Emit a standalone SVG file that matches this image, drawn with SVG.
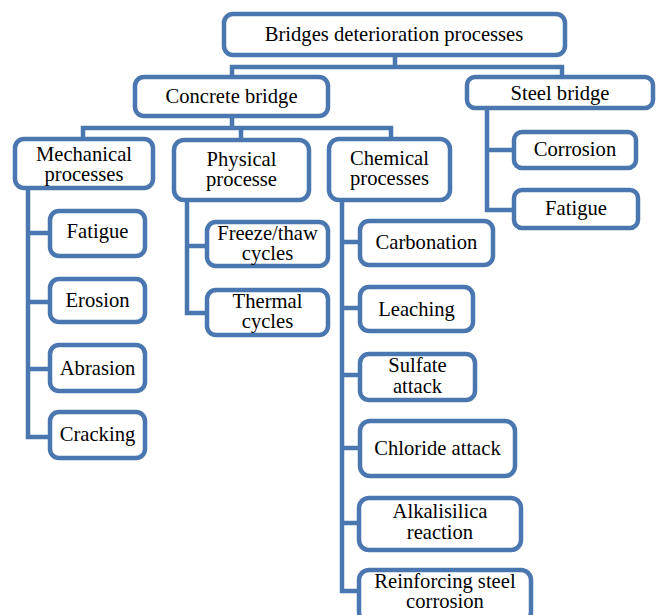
<svg xmlns="http://www.w3.org/2000/svg" width="661" height="615" viewBox="0 0 661 615">
<style>
.box{fill:#ffffff;stroke:#4a77af;stroke-width:4.5}
.ln{fill:none;stroke:#4a77af;stroke-width:4.5;stroke-linejoin:miter;stroke-linecap:square}
text{font-family:"Liberation Serif","Times New Roman",serif;font-size:20.6px;fill:#000;text-anchor:middle}
</style>
<rect width="661" height="615" fill="#ffffff"/>
<g id="connectors">
<path class="ln" d="M395,55V67M232,77V67H562V77"/>
<path class="ln" d="M232,116V128M83,139V128H391V139M241,128V140"/>
<path class="ln" d="M28,188V437H50M28,233H50M28,302H50M28,369H50"/>
<path class="ln" d="M187,200V313H207M187,246H207"/>
<path class="ln" d="M342,200V591H359M342,242H360M342,308H360M342,375H360M342,448H360M342,523H359"/>
<path class="ln" d="M487,108V210H514M487,150H514"/>
</g>
<g id="root"><rect class="box" x="224" y="14" width="341" height="41" rx="9"/><text x="394" y="41">Bridges deterioration processes</text></g>
<g id="concrete"><rect class="box" x="135" y="77" width="193" height="39" rx="9"/><text x="231.5" y="103">Concrete bridge</text></g>
<g id="steel"><rect class="box" x="467" y="77" width="186" height="31" rx="8"/><text x="560" y="100">Steel bridge</text></g>
<g id="mechanical"><rect class="box" x="15" y="139" width="138" height="49" rx="9"/><text x="84" y="160.5">Mechanical</text><text x="84" y="180.5">processes</text></g>
<g id="physical"><rect class="box" x="174" y="140" width="135" height="60" rx="10"/><text x="241.5" y="166">Physical</text><text x="241.5" y="186">processe</text></g>
<g id="chemical"><rect class="box" x="329" y="139" width="121" height="61" rx="10"/><text x="389.5" y="164.5">Chemical</text><text x="389.5" y="184.5">processes</text></g>
<g id="steel-corrosion"><rect class="box" x="514" y="132" width="122" height="36" rx="8"/><text x="575" y="156">Corrosion</text></g>
<g id="steel-fatigue"><rect class="box" x="514" y="190" width="124" height="38" rx="8"/><text x="576" y="215">Fatigue</text></g>
<g id="mech-fatigue"><rect class="box" x="50" y="211" width="95" height="45" rx="9"/><text x="97.5" y="238">Fatigue</text></g>
<g id="erosion"><rect class="box" x="50" y="279" width="95" height="43" rx="9"/><text x="97.5" y="307">Erosion</text></g>
<g id="abrasion"><rect class="box" x="50" y="345" width="95" height="46" rx="9"/><text x="97.5" y="375">Abrasion</text></g>
<g id="cracking"><rect class="box" x="50" y="412" width="95" height="46" rx="9"/><text x="97.5" y="441">Cracking</text></g>
<g id="freeze-thaw"><rect class="box" x="207" y="222" width="121" height="44" rx="9"/><text x="267.5" y="240">Freeze/thaw</text><text x="267.5" y="260">cycles</text></g>
<g id="thermal"><rect class="box" x="207" y="290" width="121" height="45" rx="9"/><text x="267.5" y="308">Thermal</text><text x="267.5" y="328">cycles</text></g>
<g id="carbonation"><rect class="box" x="360" y="221" width="133" height="44" rx="9"/><text x="426.5" y="249">Carbonation</text></g>
<g id="leaching"><rect class="box" x="360" y="287" width="113" height="44" rx="9"/><text x="416.5" y="316">Leaching</text></g>
<g id="sulfate"><rect class="box" x="360" y="354" width="115" height="46" rx="9"/><text x="417.5" y="372">Sulfate</text><text x="417.5" y="393">attack</text></g>
<g id="chloride"><rect class="box" x="360" y="421" width="155" height="55" rx="10"/><text x="437.5" y="455">Chloride attack</text></g>
<g id="alkalisilica"><rect class="box" x="359" y="498" width="162" height="52" rx="10"/><text x="440" y="518">Alkalisilica</text><text x="440" y="539">reaction</text></g>
<g id="reinforcing"><rect class="box" x="359" y="570" width="172" height="52" rx="10"/><text x="445" y="588">Reinforcing steel</text><text x="445" y="608">corrosion</text></g>
</svg>
